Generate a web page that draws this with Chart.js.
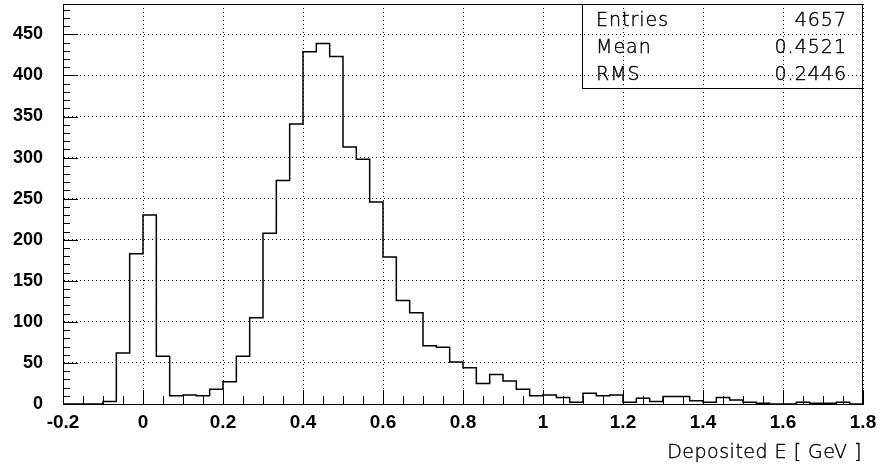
<!DOCTYPE html>
<html>
<head>
<meta charset="utf-8">
<script src="https://cdn.jsdelivr.net/npm/chart.js@4"></script>
<style>
  body { margin: 0; background: #fff; }
  #wrap { width: 880px; height: 468px; }
</style>
</head>
<body>
<div id="wrap"><canvas id="histo" width="880" height="468"></canvas></div>
<script>
// histogram binning
const X_MIN = -0.2
const X_MAX = 1.8
const N_BINS = 60
const Y_MAX = 487

// counts per bin, from -0.2 to 1.8
const counts = [
  0, 0, 0, 3, 62, 183, 230, 58, 10, 11,
  10, 18, 27, 58, 105, 208, 272, 341, 429, 439,
  423, 313, 298, 246, 179, 126, 111, 71, 69, 51,
  44, 25, 36, 28, 18, 10, 11, 8, 2, 13,
  10, 11, 2, 7, 3, 9, 9, 4, 2, 8,
  5, 2, 1, 0, 0, 2, 1, 1, 2, 0
]

// stats box
const statNames = ['Entries', 'Mean', 'RMS']
const statValues = ['4657', '0.4521', '0.2446']

const xTitle = 'Deposited E [ GeV ]'

const binW = (X_MAX - X_MIN) / N_BINS

// step outline: one point per low edge, plus the closing upper edge
const points = counts.map((c, i) => ({ x: X_MIN + i * binW, y: c }))
points.push({ x: X_MAX, y: counts[counts.length - 1] })

const THIN = '"DejaVu Sans", "Liberation Sans", sans-serif'

// thin text, stroked lightly so it stays dark
const thinText = (ctx, txt, x, y) => {
  ctx.fillText(txt, x, y)
  ctx.strokeText(txt, x, y)
}

// inward ticks, frame, stats box and axis title
const rootStyle = {
  id: 'rootStyle',
  afterDraw(chart) {
    const ctx = chart.ctx
    const { left, right, top, bottom } = chart.chartArea
    const xs = chart.scales.x
    const ys = chart.scales.y

    ctx.save()
    ctx.strokeStyle = '#000'
    ctx.lineWidth = 1
    ctx.beginPath()
    // y ticks every 10, long ones every 50
    for (let v = 0; v <= Y_MAX; v += 10) {
      const py = Math.round(ys.getPixelForValue(v)) + 0.5
      const len = v % 50 === 0 ? 15 : 7
      ctx.moveTo(left, py)
      ctx.lineTo(left + len, py)
    }
    // x ticks every 0.05, long ones every 0.2
    for (let i = 0; i <= 40; i++) {
      const px = Math.round(xs.getPixelForValue(X_MIN + i * 0.05)) + 0.5
      const len = i % 4 === 0 ? 14 : 8
      ctx.moveTo(px, bottom)
      ctx.lineTo(px, bottom - len)
    }
    ctx.stroke()

    // frame
    ctx.strokeRect(Math.round(left) + 0.5, Math.round(top) + 0.5,
      Math.round(right - left) - 1, Math.round(bottom - top))

    // stats box
    const bx = Math.round(right) - 281
    const by = Math.round(top)
    ctx.strokeRect(bx + 0.5, by + 0.5, 280, 84)
    ctx.fillStyle = '#000'
    ctx.lineWidth = 0.4
    ctx.font = '200 19px ' + THIN
    ctx.letterSpacing = '1px'
    ctx.textBaseline = 'alphabetic'
    statNames.forEach((name, i) => {
      const base = by + 22 + i * 27
      ctx.textAlign = 'left'
      thinText(ctx, name, bx + 14, base)
      ctx.textAlign = 'right'
      thinText(ctx, statValues[i], bx + 265, base)
    })

    // axis title
    ctx.font = '200 19px ' + THIN
    ctx.letterSpacing = '0.5px'
    ctx.textAlign = 'right'
    thinText(ctx, xTitle, right - 1, 458)
    ctx.restore()
  }
}

const gridDots = { display: true, color: '#000', lineWidth: 1, drawTicks: false }

new Chart(document.getElementById('histo'), {
  type: 'line',
  data: {
    datasets: [{
      data: points,
      stepped: 'before',
      borderColor: '#000',
      borderWidth: 1.5,
      pointRadius: 0,
      fill: false
    }]
  },
  options: {
    responsive: false,
    animation: false,
    devicePixelRatio: 1,
    layout: { padding: { top: 4, right: 17, left: 0, bottom: 0 } },
    plugins: { legend: { display: false }, tooltip: { enabled: false } },
    scales: {
      x: {
        type: 'linear',
        min: X_MIN,
        max: X_MAX,
        grid: gridDots,
        border: { display: true, color: '#000', width: 1, dash: [1, 3] },
        ticks: {
          stepSize: 0.2,
          padding: 7,
          color: '#000',
          font: { family: '"Liberation Sans", Arial, sans-serif', size: 19, weight: 'bold' },
          maxRotation: 0,
          callback: v => String(Number(v.toFixed(1)))
        },
        afterFit: s => { s.height = 64; s.paddingLeft = 0; s.paddingRight = 0 }
      },
      y: {
        min: 0,
        max: Y_MAX,
        grid: gridDots,
        border: { display: true, color: '#000', width: 1, dash: [1, 3] },
        ticks: {
          stepSize: 50,
          includeBounds: false,
          padding: 20,
          color: '#000',
          font: { family: '"Liberation Sans", Arial, sans-serif', size: 18, weight: 'bold' }
        },
        afterFit: s => { s.width = 63; s.paddingTop = 0; s.paddingBottom = 0 }
      }
    }
  },
  plugins: [rootStyle]
})
</script>
</body>
</html>
